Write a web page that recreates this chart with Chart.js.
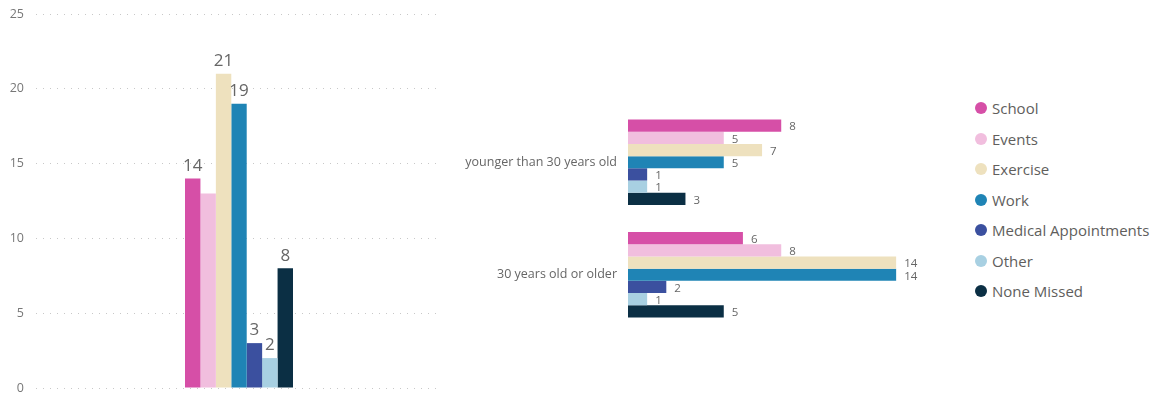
<!DOCTYPE html>
<html><head><meta charset="utf-8">
<script src="https://cdn.jsdelivr.net/npm/chart.js@4.4.1/dist/chart.umd.min.js"></script>
<style>
html,body{margin:0;padding:0;background:#fff;width:1154px;height:395px;overflow:hidden;}
#leftBox{position:absolute;left:0;top:0;width:460px;height:395px;}
#rightBox{position:absolute;left:460px;top:0;width:500px;height:395px;}
#legend{position:absolute;left:975px;top:93px;font-family:'Open Sans',sans-serif;font-size:15px;color:#605E5C;}
.item{height:30.5px;display:flex;align-items:center;white-space:nowrap;}
.dot{width:12px;height:12px;border-radius:50%;margin-right:5px;flex:none;}
</style>
</head><body>
<div id="leftBox"><canvas id="left" width="460" height="395"></canvas></div>
<div id="rightBox"><canvas id="right" width="500" height="395"></canvas></div>
<div id="legend"></div>
<script>
// ---- data ----
const seriesNames = ['School','Events','Exercise','Work','Medical Appointments','Other','None Missed'];
const seriesColors = ['#D64FA7','#F1BEDE','#EEE1BE','#1F84B5','#3B509F','#A8D0E2','#0B2F44'];
const totalValues = [14, 13, 21, 19, 3, 2, 8];
const ageGroups = ['younger than 30 years old', '30 years old or older'];
const youngerValues = [8, 5, 7, 5, 1, 1, 3];
const olderValues = [6, 8, 14, 14, 2, 1, 5];
const leftTickValues = [0, 5, 10, 15, 20, 25];

const FONT = "'Open Sans', sans-serif";

const valueLabels = {
  id: 'valueLabels',
  afterDatasetsDraw(chart, args, opts) {
    const ctx = chart.ctx;
    ctx.save();
    ctx.font = opts.size + 'px ' + FONT;
    ctx.fillStyle = opts.color;
    const placed = [];
    chart.data.datasets.forEach((ds, di) => {
      const meta = chart.getDatasetMeta(di);
      meta.data.forEach((el, i) => {
        const v = ds.data[i];
        const txt = String(v);
        const w = ctx.measureText(txt).width;
        let x, y, rect;
        if (opts.horizontal) {
          x = el.x + opts.offset; y = el.y + opts.dy;
          ctx.textAlign = 'left'; ctx.textBaseline = 'middle';
          rect = [x, y - opts.size/2, x + w, y + opts.size/2];
        } else {
          x = el.x; y = el.y - opts.offset;
          ctx.textAlign = 'center'; ctx.textBaseline = 'bottom';
          rect = [x - w/2, y - opts.size, x + w/2, y];
        }
        if (opts.collide) {
          const hit = placed.some(r => rect[0] < r[2] && rect[2] > r[0] && rect[1] < r[3] && rect[3] > r[1]);
          if (hit) return;
          placed.push(rect);
        }
        ctx.fillText(txt, x, y);
      });
    });
    ctx.restore();
  }
};

// ---- left chart ----
new Chart(document.getElementById('left'), {
  type: 'bar',
  data: {
    labels: [''],
    datasets: seriesNames.map((n, i) => ({
      label: n, data: [totalValues[i]], backgroundColor: seriesColors[i],
      categoryPercentage: 0.266, barPercentage: 1, borderWidth: 0
    }))
  },
  options: {
    responsive: false, animation: false, devicePixelRatio: 1,
    layout: { padding: { left: 0, right: 18, top: 14, bottom: 7 } },
    plugins: { legend: { display: false }, tooltip: { enabled: false },
      valueLabels: { size: 17, color: '#666666', offset: 4, collide: true } },
    scales: {
      x: { display: false },
      y: {
        min: 0, max: 25,
        afterFit: s => { s.width = 36; s.paddingTop = 0; s.paddingBottom = 0; },
        afterBuildTicks: s => { s.ticks = leftTickValues.map(v => ({ value: v })); },
        ticks: { padding: 12, color: '#777777', font: { family: FONT, size: 12.5 } },
        grid: { drawTicks: false, color: '#C8C8C8', lineWidth: 1 },
        border: { display: false, dash: [1, 6] }
      }
    }
  },
  plugins: [valueLabels]
});

// ---- right chart ----
new Chart(document.getElementById('right'), {
  type: 'bar',
  data: {
    labels: ageGroups,
    datasets: seriesNames.map((n, i) => ({
      label: n, data: [youngerValues[i], olderValues[i]], backgroundColor: seriesColors[i],
      categoryPercentage: 0.76, barPercentage: 1, borderWidth: 0
    }))
  },
  options: {
    indexAxis: 'y',
    responsive: false, animation: false, devicePixelRatio: 1,
    layout: { padding: { left: 0, right: 44.7, top: 106, bottom: 64 } },
    plugins: { legend: { display: false }, tooltip: { enabled: false },
      valueLabels: { size: 11.5, color: '#666666', offset: 8, dy: 1.5, horizontal: true, collide: false } },
    scales: {
      x: { display: false, min: 0, max: 15 },
      y: {
        afterFit: s => { s.width = 168; s.paddingTop = 0; s.paddingBottom = 0; },
        ticks: { padding: 11, color: '#666666', font: { family: FONT, size: 12.5 } },
        grid: { display: false, drawTicks: false },
        border: { display: false }
      }
    }
  },
  plugins: [valueLabels]
});

// ---- legend ----
const lg = document.getElementById('legend');
seriesNames.forEach((n, i) => {
  const row = document.createElement('div'); row.className = 'item';
  const d = document.createElement('span'); d.className = 'dot'; d.style.background = seriesColors[i];
  const t = document.createElement('span'); t.textContent = n;
  row.appendChild(d); row.appendChild(t); lg.appendChild(row);
});
</script>
</body></html>
